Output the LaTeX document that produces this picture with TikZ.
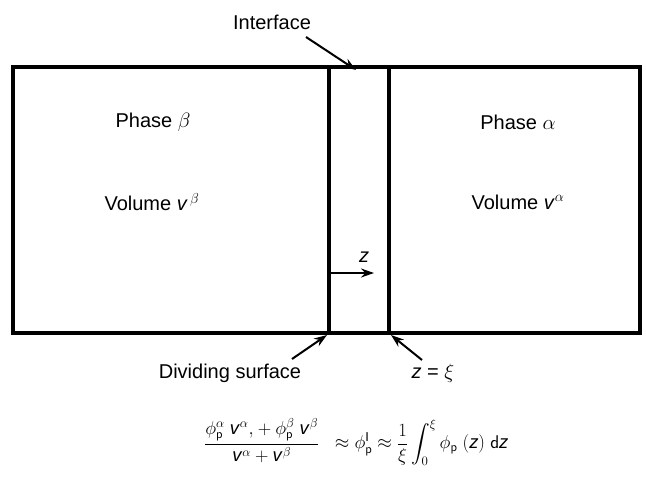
\documentclass[tikz,border=0pt]{standalone}
\usepackage{amsmath}
\usepackage{fontspec}
\setmainfont{Liberation Sans}
\usetikzlibrary{arrows.meta}
\newcommand{\vi}{\textit{v}}
\newcommand{\zi}{\textit{z}}
\begin{document}
\begin{tikzpicture}[x=1pt,y=-1pt,
  wall/.style={line width=4pt,line cap=rect},
  lbl/.style={font=\fontsize{20}{24}\selectfont,inner sep=1pt},
  eqs/.style={font=\fontsize{20.5}{24}\selectfont,inner sep=1pt},
  pointer/.style={line width=2pt,-{Stealth[length=13pt,width=9pt]}}]
\useasboundingbox (0,0) rectangle (646,482);
% box
\draw[wall] (13,67) rectangle (640,333);
\draw[wall] (329,67) -- (329,333);
\draw[wall] (389,67) -- (389,333);
% labels
\node[lbl] (phb) at (153,122) {Phase $\beta$};
\node[lbl] (volb) at (152,202) {Volume \vi$^{\,\beta}$};
\node[lbl] (pha) at (518,122) {Phase $\alpha$};
\node[lbl] (vola) at (518,202) {Volume \vi$^{\alpha}$};
\node[lbl] (intf) at (272,22) {Interface};
\node[lbl] (div) at (230,373) {Dividing surface};
\node[lbl] (zxi) at (433,373) {\zi\ = $\xi$};
\node[lbl] (zl) at (364,257) {\zi};
% pointer targets
\coordinate (tI) at (356,70);
\coordinate (tD) at (327,335);
\coordinate (tX) at (391,335);
\coordinate (zs) at (331,273);
\coordinate (ze) at (374,273);
\draw[pointer] (306,37) -- (tI);
\draw[pointer] (292,359) -- (tD);
\draw[pointer] (422,360) -- (tX);
\draw[pointer] (zs) -- (ze);
% equation
\node[eqs,anchor=west] (eq) at (203,442) {\scalebox{0.9}{$\dfrac{\phi_{\mathsf p}^{\alpha}\;\text{\vi}^{\alpha}{,}+\phi_{\mathsf p}^{\beta}\;\text{\vi}^{\beta}}{\text{\vi}^{\alpha}+\text{\vi}^{\beta}}\;\;\approx\phi_{\mathsf p}^{\mathrm I}\approx\dfrac{1}{\xi}\displaystyle\int_0^{\xi}\phi_{\mathsf p}\;(\text{\zi})\;\mathsf{d}\text{\zi}$}};
\end{tikzpicture}
\end{document}
